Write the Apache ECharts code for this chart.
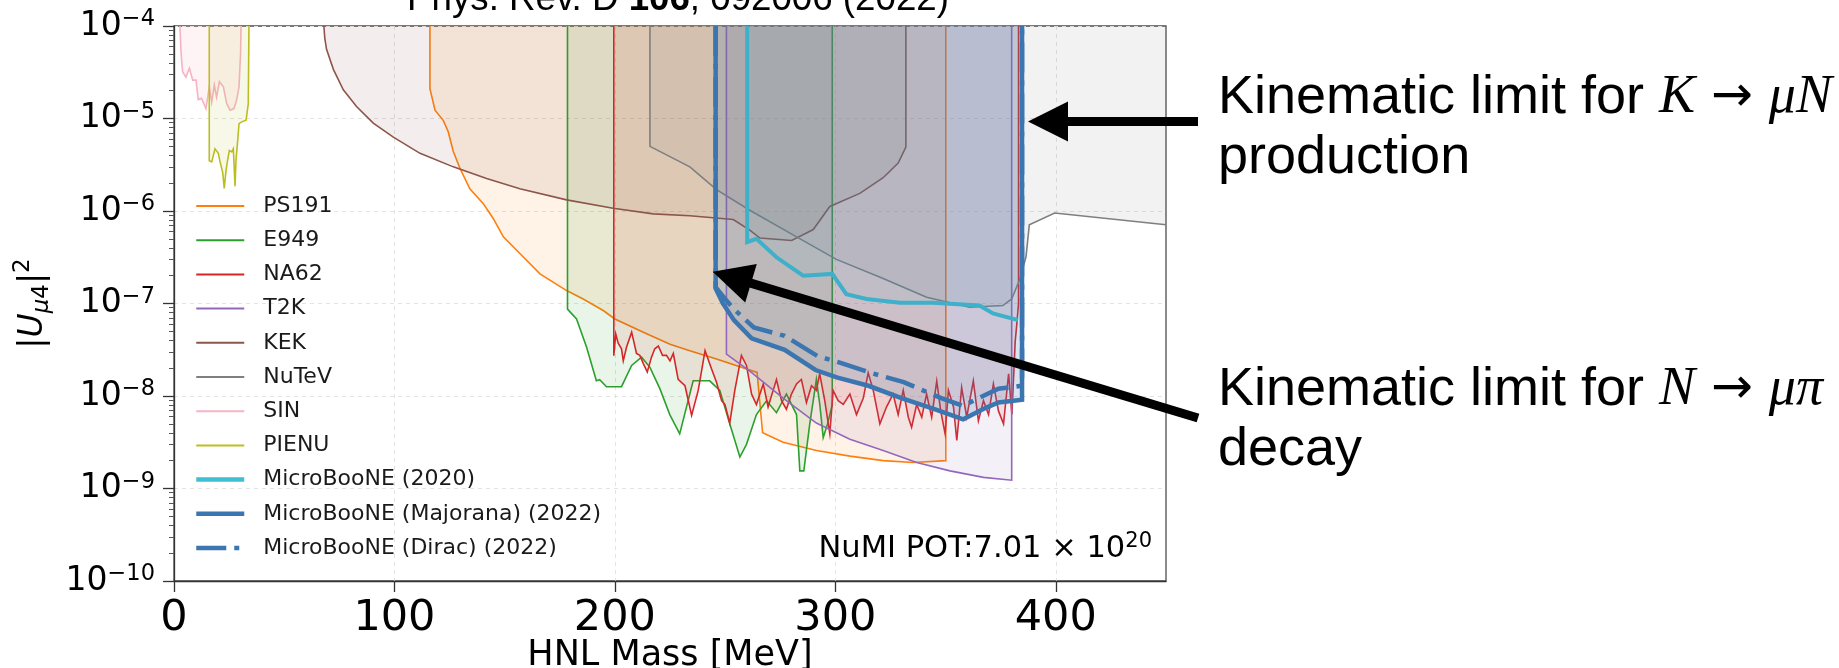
<!DOCTYPE html>
<html><head><meta charset="utf-8">
<script src="https://cdn.jsdelivr.net/npm/echarts@6/dist/echarts.min.js"></script>
<style>html,body{margin:0;padding:0;background:#fff}#c{width:1839px;height:668px}</style>
</head><body><div id="c"></div>
<script>
// ---------- ticks ----------
const xTicks = [0, 100, 200, 300, 400];
const yMajor = [1e-10, 1e-9, 1e-8, 1e-7, 1e-6, 1e-5, 1e-4];
const yMinorMult = [2, 3, 4, 5, 6, 7, 8, 9];

// ---------- data: [HNL mass (MeV), |U_mu4|^2] ----------
const PS191 = [[116.1,1e-4],[116.1,2.1e-5],[118.4,1.23e-5],[122.2,9.5e-6],[124.4,7.2e-6],[126.7,4.4e-6],[129.7,2.9e-6],[134.2,1.74e-6],[140.3,1.2e-6],[144.8,8.3e-7],[149.4,5.25e-7],[156.9,3.47e-7],[166,2.09e-7],[178.1,1.38e-7],[185.6,1.12e-7],[194.7,8.4e-8],[200,6.8e-8],[212.9,4.9e-8],[225,3.63e-8],[234,3.09e-8],[246.1,2.51e-8],[264.5,1.8e-8],[267,4.0e-9],[276.3,3.16e-9],[291.4,2.57e-9],[306.6,2.24e-9],[321.7,2.0e-9],[335.3,1.91e-9],[350.1,2.0e-9],[350.1,1e-4]];
const E949 = [[178.5,1e-4],[178.5,8.7e-8],[182.6,6.8e-8],[187.1,3.4e-8],[191.6,1.46e-8],[193.1,1.5e-8],[196.2,1.26e-8],[203,1.26e-8],[207.6,2.14e-8],[212.1,2.63e-8],[215.9,2.04e-8],[220.4,1.2e-8],[224.9,6.3e-9],[229.4,3.9e-9],[235.5,1.46e-8],[243,1.46e-8],[247.6,1.15e-8],[252.1,5.0e-9],[256.7,2.19e-9],[259.7,3.0e-9],[264.2,6.3e-9],[268.8,8.9e-9],[273.3,6.6e-9],[277.8,1.05e-8],[282.4,6.3e-9],[283.9,1.55e-9],[285.7,1.55e-9],[288.4,5.0e-9],[291.4,1.51e-8],[293,7.9e-9],[294.5,3.55e-9],[296.5,5.0e-9],[298.6,8e-9],[298.6,1e-4]];
const NA62 = [[199.5,1e-4],[199.5,2.73e-8],[200.4,4.68e-8],[201.5,3.72e-8],[203,3.24e-8],[203.8,2.4e-8],[205.3,3.39e-8],[207.6,4.9e-8],[209.8,2.88e-8],[211.3,2.75e-8],[212.9,2.24e-8],[214.7,1.82e-8],[216.6,2.63e-8],[218.1,3.24e-8],[219.7,3.47e-8],[221.6,2.75e-8],[223.4,2.75e-8],[225,2.4e-8],[226.5,2.88e-8],[228.7,1.51e-8],[231.8,1.29e-8],[234.8,6.17e-9],[237.8,1.15e-8],[240.9,3.09e-8],[243.9,1.95e-8],[246.1,1.41e-8],[248.4,8.9e-9],[249.9,8.1e-9],[252.1,5.1e-9],[254.4,1.15e-8],[257.4,2.75e-8],[259.7,2.14e-8],[262,1.05e-8],[264.2,8.1e-9],[267.3,1.35e-8],[269.5,7.6e-9],[271.8,1.15e-8],[273.3,1.51e-8],[275.6,8.9e-9],[277.8,7.2e-9],[280.1,1.05e-8],[282.4,1.35e-8],[284.6,1.51e-8],[286.9,8.5e-9],[289.2,1.29e-8],[291.4,1.15e-8],[292.9,1.74e-8],[295.2,8.9e-9],[297.5,3.9e-9],[299,1.15e-8],[301.3,8.9e-9],[303.6,8.1e-9],[306.6,1.05e-8],[309.6,6.3e-9],[312.7,9.5e-9],[314.9,1.78e-8],[317.2,1.15e-8],[320.2,5.0e-9],[323.2,7.6e-9],[326.2,1.05e-8],[328.5,6.3e-9],[330.8,1.15e-8],[333.1,5.9e-9],[334.6,4.6e-9],[336.9,8.1e-9],[339.2,5.9e-9],[341.4,1.05e-8],[343.7,5.9e-9],[346,1.45e-8],[347.8,6.9e-9],[349.8,3.9e-9],[351.3,1.15e-8],[353.6,7.6e-9],[355.1,3.3e-9],[357.3,1.23e-8],[359.6,5.9e-9],[362.6,1.45e-8],[364.9,5.4e-9],[367.2,8.9e-9],[369.5,6.3e-9],[371.7,1.35e-8],[374,6.9e-9],[376.3,5.0e-9],[378.6,1.74e-8],[380.1,6.3e-9],[381.6,3.9e-8],[382.3,5.9e-8],[383.1,1.0e-7],[383.1,1e-4]];
const T2K = [[250.6,1e-4],[250.6,2.84e-8],[261.2,1.86e-8],[276.3,9.5e-9],[291.4,5.1e-9],[306.6,3.4e-9],[321.7,2.57e-9],[336.9,1.91e-9],[352,1.55e-9],[367.2,1.32e-9],[380,1.23e-9],[380,1e-4]];
const KEK = [[68.0,1e-4],[68.4,7.4e-5],[69.2,5.6e-5],[72.3,3.4e-5],[76.8,2.04e-5],[82.8,1.35e-5],[90.4,8.9e-6],[99.5,6.3e-6],[111.6,4.2e-6],[126.7,3.0e-6],[141.8,2.24e-6],[156.9,1.74e-6],[178.1,1.32e-6],[199.2,1.07e-6],[217.4,9.3e-7],[234,8.9e-7],[253.7,8.1e-7],[261.2,6.2e-7],[265.8,5.1e-7],[280.2,4.8e-7],[290,6.3e-7],[297.5,1.12e-6],[311.1,1.55e-6],[321.7,2.29e-6],[328.5,3.3e-6],[332,4.9e-6],[332,1e-4]];
const NuTeV = [[215.9,1e-4],[215.9,5.0e-6],[234,3.0e-6],[246.1,1.7e-6],[261.2,1.02e-6],[282.4,5.25e-7],[300.5,3.0e-7],[321.7,1.86e-7],[341.4,1.17e-7],[360.9,9.1e-8],[376,9.5e-8],[380,1.12e-7],[383.5,1.78e-7],[386.5,3.2e-7],[388,7.1e-7],[399.5,9.5e-7],[450,7.1e-7]];
const SIN = [[2.7,1e-4],[3.2,5.1e-5],[3.9,3.2e-5],[5.4,2.8e-5],[7.0,3.5e-5],[8.5,2.6e-5],[10.0,2.6e-5],[11.0,1.6e-5],[12.5,1.65e-5],[14.5,1.28e-5],[16.0,2.2e-5],[17.1,1.5e-5],[18.3,2.3e-5],[19.3,1.7e-5],[20.6,2.5e-5],[22.4,2.2e-5],[23.9,1.45e-5],[25.4,1.23e-5],[27.2,1.28e-5],[28.4,1.58e-5],[29.5,2.2e-5],[30.2,5.1e-5],[30.4,1e-4]];
const PIENU = [[16.0,1e-4],[16.0,3.5e-6],[17.1,3.4e-6],[18.6,4.7e-6],[20.1,4.2e-6],[20.9,3.4e-6],[22.1,2.6e-6],[22.8,1.75e-6],[23.6,2.75e-6],[24.3,3.5e-6],[25.1,4.5e-6],[26.2,4.35e-6],[26.9,4.7e-6],[27.7,1.85e-6],[28.1,3.5e-6],[28.9,5.8e-6],[29.5,8.8e-6],[30.7,9.2e-6],[32.7,9.6e-6],[33.7,1.45e-5],[34.0,1e-4]];
const UB2020 = [[260,1e-4],[260,4.6e-7],[264.2,5.0e-7],[273.3,3.16e-7],[285.4,2.0e-7],[298.6,2.09e-7],[305,1.26e-7],[314.2,1.12e-7],[329.3,1.02e-7],[344.3,1.02e-7],[365.4,9.5e-8],[371.5,7.8e-8],[382.9,6.6e-8]];
const UB_MAJ = [[245.7,1e-4],[245.7,1.45e-7],[249,1.0e-7],[254,6.6e-8],[262,4.2e-8],[277,3.16e-8],[291,1.91e-8],[301,1.58e-8],[315,1.29e-8],[330,9.5e-9],[345,7.2e-9],[358,5.6e-9],[368,7.4e-9],[374,8.5e-9],[384.7,9.1e-9],[384.7,1e-4]];
const UB_DIR = [[245.7,1e-4],[245.7,1.5e-7],[250,1.12e-7],[254,8.7e-8],[263,5.5e-8],[277,4.47e-8],[292,2.69e-8],[301,2.34e-8],[316,1.78e-8],[331,1.41e-8],[348,9.5e-9],[358,7.8e-9],[367,1.0e-8],[374,1.2e-8],[384.7,1.29e-8],[384.7,1e-4]];

const names = ['PS191','E949','NA62','T2K','KEK','NuTeV','SIN','PIENU','MicroBooNE (2020)','MicroBooNE (Majorana) (2022)','MicroBooNE (Dirac) (2022)'];
const colors = ['#ff7f0e','#2ca02c','#d62728','#9467bd','#8c564b','#7f7f7f','#f5b3c3','#bcbd22','#3fbfd0','#3b76b0','#3b76b0'];

const minorTicks = [];
for (let e = -10; e < -4; e++) yMinorMult.forEach(m => minorTicks.push(+(m + 'e' + e)));

function region(i, data, fillOpacity, width, dash) {
  const s = {
    name: names[i], type: 'line', data: data, symbol: 'none', showSymbol: false,
    smooth: false, clip: true, silent: true,
    lineStyle: { color: colors[i], width: width || 1.6, type: dash || 'solid', cap: 'butt', join: 'miter' },
    itemStyle: { color: colors[i] },
    z: 2 + i
  };
  if (fillOpacity > 0) s.areaStyle = { color: colors[i], opacity: fillOpacity, origin: 'end' };
  return s;
}

const series = [
  region(0, PS191, 0.1), region(1, E949, 0.1), region(2, NA62, 0.1), region(3, T2K, 0.1),
  region(4, KEK, 0.1), region(5, NuTeV, 0.1), region(6, SIN, 0.15), region(7, PIENU, 0.1),
  region(8, UB2020, 0.08, 4), region(9, UB_MAJ, 0.2, 4.5), region(10, UB_DIR, 0, 4.5, [30, 8, 5, 8])
];

const FONT = 'DejaVu Sans';
const chart = echarts.init(document.getElementById('c'), null, { renderer: 'canvas', width: 1839, height: 668 });

const legendData = names.map((n, i) => ({
  name: n,
  lineStyle: { width: i >= 8 ? 4.5 : 2 }
}));

chart.setOption({
  animation: false,
  backgroundColor: '#ffffff',
  grid: { left: 174, right: 673, top: 26, bottom: 87, containLabel: false, outerBoundsMode: 'none',
          show: true, borderColor: '#4d4d4d', borderWidth: 1.3, backgroundColor: '#ffffff' },
  xAxis: {
    type: 'value', min: 0, max: 450, interval: 100,
    axisLine: { show: true, lineStyle: { color: '#333', width: 1.3 } },
    axisTick: { show: true, length: 11, lineStyle: { color: '#333', width: 1.3 }, customValues: xTicks },
    axisLabel: { fontSize: 43, fontFamily: FONT, color: '#000', margin: 16, customValues: xTicks },
    splitLine: { show: true, lineStyle: { color: '#e3e3e3', width: 1, type: [4, 4] } },
    name: 'HNL Mass [MeV]', nameLocation: 'middle', nameGap: 57, nameMoveOverlap: false,
    nameTextStyle: { fontSize: 35, fontFamily: FONT, color: '#000', verticalAlign: 'top' }
  },
  yAxis: [{
    type: 'log', logBase: 10, min: 1e-10, max: 1e-4,
    axisLine: { show: true, lineStyle: { color: '#333', width: 1.3 } },
    axisTick: { show: true, length: 11, lineStyle: { color: '#333', width: 1.3 } },
    axisLabel: {
      margin: 19, color: '#000',
      formatter: v => '{b|10}{s|\u2212' + Math.round(-Math.log10(v)) + '}',
      rich: {
        b: { fontSize: 33, fontFamily: FONT, color: '#000', lineHeight: 36 },
        s: { fontSize: 22.5, fontFamily: FONT, color: '#000', lineHeight: 22, verticalAlign: 'top' }
      }
    },
    splitLine: { show: true, lineStyle: { color: '#e3e3e3', width: 1, type: [4, 4] } },
    name: '{n||}{i|U}{sub|\u03bc}{s4|4}{n||}{sup|2}', nameLocation: 'middle', nameGap: 120, nameRotate: 90,
    nameTextStyle: {
      color: '#000',
      rich: {
        n: { fontSize: 33, fontFamily: FONT, color: '#000', lineHeight: 42 },
        i: { fontSize: 33, fontFamily: FONT, fontStyle: 'italic', color: '#000', lineHeight: 42 },
        sub: { fontSize: 23, fontFamily: FONT, fontStyle: 'italic', color: '#000', lineHeight: 23, verticalAlign: 'bottom' },
        s4: { fontSize: 23, fontFamily: FONT, color: '#000', lineHeight: 23, verticalAlign: 'bottom' },
        sup: { fontSize: 23, fontFamily: FONT, color: '#000', lineHeight: 23, verticalAlign: 'top' }
      }
    }
  }, {
    type: 'log', logBase: 10, min: 1e-10, max: 1e-4, position: 'left', offset: 0,
    axisLine: { show: false }, axisLabel: { show: false }, splitLine: { show: false },
    axisTick: { show: true, length: 5, lineStyle: { color: '#555', width: 1 }, customValues: minorTicks }
  }],
  legend: {
    orient: 'vertical', left: 194, top: 195, padding: 0, itemWidth: 48, itemHeight: 14, itemGap: 12.2,
    selectedMode: false,
    itemStyle: { opacity: 0 },
    textStyle: { fontSize: 22, fontFamily: FONT, color: '#1a1a1a', padding: [0, 0, 0, 14], lineHeight: 22 },
    data: legendData
  },
  series: series
});

// ---------- annotations ----------
function arrow(tip, tail, headLen, headHalf, shaftHalf) {
  const dx = tail[0] - tip[0], dy = tail[1] - tip[1];
  const L = Math.sqrt(dx * dx + dy * dy), ux = dx / L, uy = dy / L, nx = -uy, ny = ux;
  const b = [tip[0] + ux * headLen, tip[1] + uy * headLen];
  return [
    { type: 'polygon', z: 100, shape: { points: [tip, [b[0] + nx * headHalf, b[1] + ny * headHalf], [b[0] - nx * headHalf, b[1] - ny * headHalf]] }, style: { fill: '#000' } },
    { type: 'polygon', z: 100, shape: { points: [[b[0] + nx * shaftHalf - ux * 2, b[1] + ny * shaftHalf - uy * 2], [tail[0] + nx * shaftHalf, tail[1] + ny * shaftHalf], [tail[0] - nx * shaftHalf, tail[1] - ny * shaftHalf], [b[0] - nx * shaftHalf - ux * 2, b[1] - ny * shaftHalf - uy * 2]] }, style: { fill: '#000' } }
  ];
}
const ARIAL = 'Liberation Sans', TIMES = 'Liberation Serif';
const annRich = {
  m: { fontFamily: TIMES, fontStyle: 'italic', fontSize: 54, fill: '#000' },
  r: { fontFamily: FONT, fontSize: 50, fill: '#000' }
};
function annText(x, y, text) {
  return { type: 'text', z: 100, x: x, y: y, style: { text: text, rich: annRich, fontFamily: ARIAL, fontSize: 54, fill: '#000', align: 'left', verticalAlign: 'middle' } };
}
const g = [
  { type: 'text', z: 100, x: 678, y: 0, style: {
      text: 'Phys. Rev. D {b|106}, 092006 (2022)', fontFamily: ARIAL, fontSize: 36.7, fill: '#000', align: 'center', verticalAlign: 'middle',
      rich: { b: { fontFamily: ARIAL, fontSize: 36.7, fontWeight: 'bold', fill: '#000' } } } },
  { type: 'text', z: 100, x: 1152, y: 549.5, style: {
      text: 'NuMI POT:7.01 \u00d7 10{s|20}', fontFamily: FONT, fontSize: 30.5, fill: '#000', align: 'right', verticalAlign: 'middle', lineHeight: 36,
      rich: { s: { fontFamily: FONT, fontSize: 21, fill: '#000', verticalAlign: 'top', lineHeight: 21 } } } },
  annText(1218, 98, 'Kinematic limit for {m|K}{r| \u2192 }{m|\u03bcN}'),
  annText(1218, 158, 'production'),
  annText(1218, 390, 'Kinematic limit for {m|N}{r| \u2192 }{m|\u03bc\u03c0}'),
  annText(1218, 450, 'decay')
].concat(arrow([1028, 121.5], [1198, 121.5], 40, 20, 4.5))
 .concat(arrow([712.7, 271.7], [1198, 418], 40, 20, 4.5));

chart.setOption({ graphic: g });
</script>
</body></html>
